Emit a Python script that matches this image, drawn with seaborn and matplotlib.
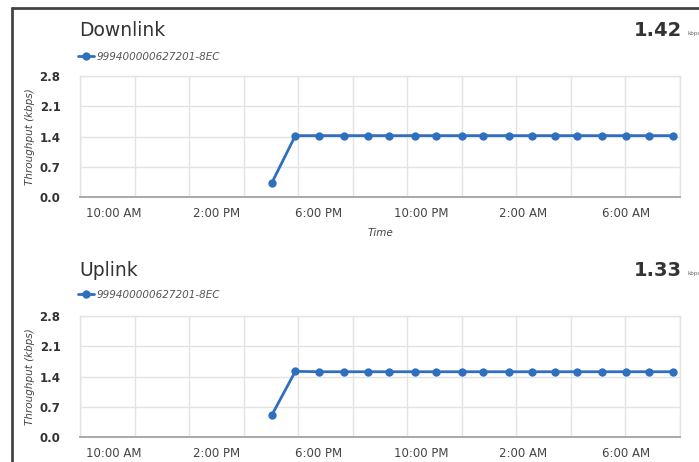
import pandas as pd
import numpy as np
import matplotlib.pyplot as plt
import matplotlib.dates as mdates
from matplotlib.lines import Line2D
import seaborn as sns

# ==========================================
# Data
# ==========================================

device = "999400000627201-8EC"

times = [
    "2023-05-01 16:10", "2023-05-01 17:05", "2023-05-01 18:00", "2023-05-01 19:00",
    "2023-05-01 19:55", "2023-05-01 20:45", "2023-05-01 21:45", "2023-05-01 22:35",
    "2023-05-01 23:35", "2023-05-02 00:25", "2023-05-02 01:25", "2023-05-02 02:20",
    "2023-05-02 03:15", "2023-05-02 04:05", "2023-05-02 05:05", "2023-05-02 06:00",
    "2023-05-02 06:55", "2023-05-02 07:50",
]

downlink = [0.33, 1.42, 1.42, 1.42, 1.42, 1.42, 1.42, 1.42, 1.42,
            1.42, 1.42, 1.42, 1.42, 1.42, 1.42, 1.42, 1.42, 1.42]

uplink = [0.51, 1.52, 1.51, 1.51, 1.51, 1.51, 1.51, 1.51, 1.51,
          1.51, 1.51, 1.51, 1.51, 1.51, 1.51, 1.51, 1.51, 1.51]

y_ticks = [0.0, 0.7, 1.4, 2.1, 2.8]

panels = [
    ("Downlink", "1.42", downlink, "Time"),
    ("Uplink", "1.33", uplink, ""),
]

# ==========================================
# Style
# ==========================================

sns.set_theme(style="whitegrid")
plt.rcParams["font.family"] = ["DejaVu Sans"]

W, H = 699, 462
BLUE = "#2f6fc0"
GRID = "#e3e3e3"
DARK = "#333333"

fig = plt.figure(figsize=(W / 100, H / 100), dpi=100)
fig.patch.set_facecolor("white")

x_start = pd.Timestamp("2023-05-01 08:40")
x_end = pd.Timestamp("2023-05-02 08:07")

# pixel rows: title y, legend y, axes top, axes bottom
layout = [(30, 57, 76, 197), (271, 295, 316, 437)]

for (title, summary, values, xlabel), (ty, ly, top, bottom) in zip(panels, layout):
    ax = fig.add_axes([80 / W, 1 - bottom / H, 600 / W, (bottom - top) / H])

    df = pd.DataFrame({
        "time": pd.to_datetime(times),
        "value": values,
        "device": device,
    })

    sns.lineplot(
        data=df, x="time", y="value", hue="device",
        palette=[BLUE], marker="o", markersize=6,
        markeredgewidth=0, linewidth=2, ax=ax,
    )

    ax.set_xlim(x_start, x_end)
    ax.set_ylim(0, 2.8)
    ax.set_yticks(y_ticks)
    ax.set_yticklabels([f"{v:.1f}" for v in y_ticks],
                       fontsize=8.5, color=DARK, fontweight="bold")

    ax.xaxis.set_major_locator(mdates.HourLocator(byhour=[2, 6, 10, 14, 18, 22]))
    ax.xaxis.set_major_formatter(mdates.DateFormatter("%-I:%M %p"))
    ax.tick_params(axis="x", labelsize=8.5, colors="#444444", pad=7, length=0)
    ax.tick_params(axis="y", pad=14, length=0)

    # vertical gridlines sit on minor ticks
    lo, hi = mdates.date2num(x_start), mdates.date2num(x_end)
    ax.set_xticks(np.linspace(lo, hi, 12), minor=True)
    ax.tick_params(axis="x", which="minor", length=0)
    ax.grid(False, which="major", axis="x")
    ax.grid(True, which="minor", axis="x", color=GRID, linewidth=1)
    ax.grid(True, which="major", axis="y", color=GRID, linewidth=1)

    for side in ["left", "right", "top"]:
        ax.spines[side].set_color(GRID)
        ax.spines[side].set_linewidth(1)
    ax.spines["bottom"].set_color("#9a9a9a")
    ax.spines["bottom"].set_linewidth(1.2)

    ax.set_ylabel("Throughput (kbps)", fontsize=7.5, style="italic",
                  color="#444444", labelpad=3)
    ax.set_xlabel(xlabel, fontsize=7.5, style="italic", color="#444444",
                  labelpad=6)

    ax.legend(
        loc="center left", bbox_to_anchor=(78 / W, 1 - ly / H),
        bbox_transform=fig.transFigure, frameon=False,
        prop={"style": "italic", "size": 7.5}, labelcolor="#555555",
        handlelength=1.5, handletextpad=0.3, borderpad=0, borderaxespad=0,
    )

    fig.text(79 / W, 1 - ty / H, title, fontsize=13.5, color=DARK,
             va="center", ha="left")
    fig.text(682 / W, 1 - ty / H, summary, fontsize=14, color=DARK,
             fontweight="bold", va="center", ha="right")
    fig.text(687 / W, 1 - (ty + 3) / H, "kbps", fontsize=4, color="#666666",
             va="center", ha="left")

# outer frame of the dashboard card
fig.add_artist(Line2D([12 / W, 12 / W], [0, 1 - 8 / H], color="#444444",
                      linewidth=2, transform=fig.transFigure))
fig.add_artist(Line2D([12 / W, 1], [1 - 8 / H, 1 - 8 / H], color="#444444",
                      linewidth=2, transform=fig.transFigure))

fig.savefig("out.png", dpi=100)
